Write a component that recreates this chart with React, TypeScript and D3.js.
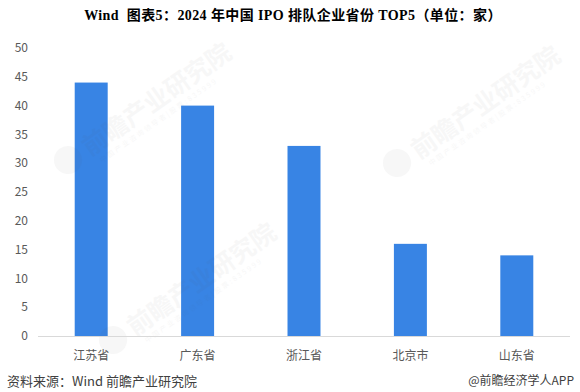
import React from "react";
import * as d3 from "d3";

const categories = ["江苏省", "广东省", "浙江省", "北京市", "山东省"];
const values = [44, 40, 33, 16, 14];
const yTicks = [0, 5, 10, 15, 20, 25, 30, 35, 40, 45, 50];

const W = 580;
const H = 392;
const left = 38;
const right = 570;
const top = 48;
const bottom = 336;

const watermarks = [
  [68, 160],
  [397, 163],
  [113, 340],
];

export default function App() {
  const x = d3.scaleBand<string>().domain(categories).range([left, right]).paddingInner(0.69).paddingOuter(0.345);
  const y = d3.scaleLinear().domain([0, 50]).range([bottom, top]);
  const font = "'Microsoft YaHei', 'Noto Sans CJK SC', 'Noto Sans', sans-serif";
  return (
    <svg width={W} height={H} style={{ position: "absolute", left: 0, top: 0, background: "#fff" }}>
      <text x={293} y={20} textAnchor="middle" xmlSpace="preserve" style={{ whiteSpace: "pre" }} letterSpacing={0.4} fontFamily="'Liberation Serif', 'Noto Sans CJK SC', serif" fontWeight="bold" fontSize={14} fill="#000">
        {"Wind  图表5：2024 年中国 IPO 排队企业省份 TOP5（单位：家）"}
      </text>
      {yTicks.map((t) => (
        <text key={t} x={28} y={y(t)} dy="0.35em" textAnchor="end" fontFamily={font} fontSize={12} fill="#595959">
          {t}
        </text>
      ))}
      {categories.map((c, i) => (
        <rect key={c} x={x(c)} y={y(values[i])} width={x.bandwidth()} height={bottom - y(values[i])} fill="#3884E4" />
      ))}
      {watermarks.map(([wx, wy], i) => (
        <g key={i} transform={`translate(${wx},${wy}) rotate(-35)`} opacity={0.045}>
          <circle cx={0} cy={0} r={14} fill="#555" />
          <text x={20} y={10} fontFamily={font} fontWeight="bold" fontSize={25} fill="#555">前瞻产业研究院</text>
          <text x={26} y={22} fontFamily={font} fontSize={7} fill="#555" letterSpacing={2}>中国产业咨询领导者|股票:835999</text>
        </g>
      ))}
      <line x1={left} x2={right} y1={bottom + 0.5} y2={bottom + 0.5} stroke="#d9d9d9" strokeWidth={1} />
      {categories.map((c) => (
        <text key={c} x={(x(c) as number) + x.bandwidth() / 2} y={356} dy="0.35em" textAnchor="middle" fontFamily={font} fontSize={12} fill="#595959">
          {c}
        </text>
      ))}
      <text x={7} y={381} dy="0.35em" fontFamily={font} fontSize={13} fill="#404040">
        资料来源：Wind 前瞻产业研究院
      </text>
      <text x={574} y={381} dy="0.35em" textAnchor="end" fontFamily={font} fontSize={12} fill="#404040">
        @前瞻经济学人APP
      </text>
    </svg>
  );
}
